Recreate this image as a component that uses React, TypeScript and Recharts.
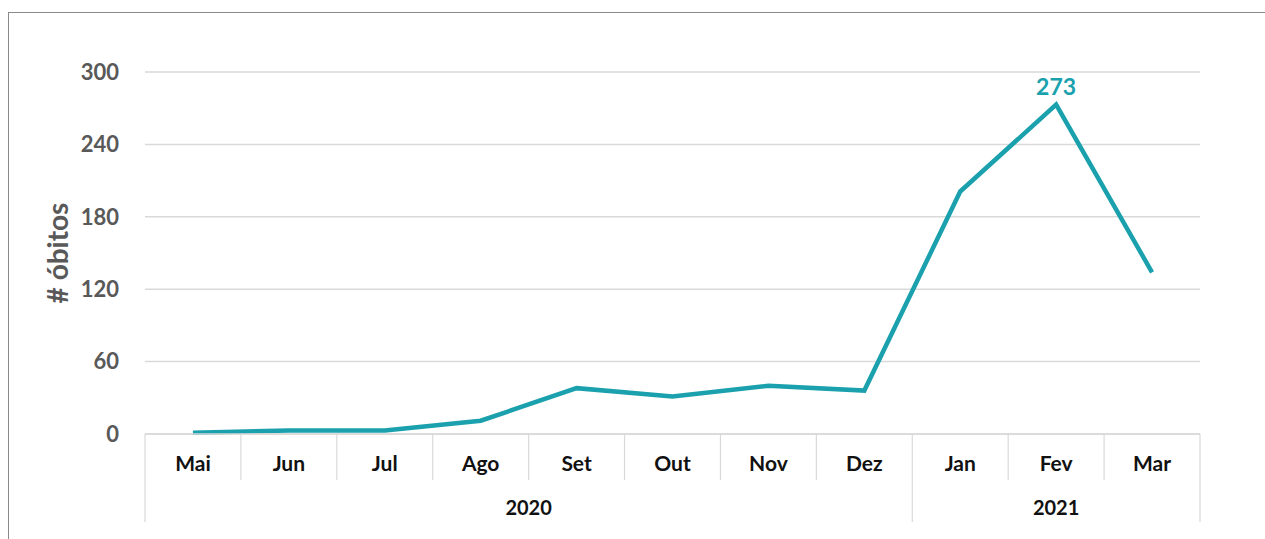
import { LineChart, Line, XAxis, YAxis, CartesianGrid, LabelList } from 'recharts';

const months = ['Mai', 'Jun', 'Jul', 'Ago', 'Set', 'Out', 'Nov', 'Dez', 'Jan', 'Fev', 'Mar'];
const monthYear = ['2020', '2020', '2020', '2020', '2020', '2020', '2020', '2020', '2021', '2021', '2021'];
const obitos = [1, 3, 3, 11, 38, 31, 40, 36, 201, 273, 134];
const yTicks = [0, 60, 120, 180, 240, 300];

const chartData = months.map((m, i) => ({ month: m, year: monthYear[i], obitos: obitos[i] }));

const W = 1257;
const H = 531;
const X_H = 30;
const M = { top: 64, right: 65, bottom: 105 - X_H, left: 0 };
const Y_W = 137;
const BAND = (W - M.right - Y_W) / months.length;
const FONT = 'Lato, "Open Sans", sans-serif';
const TEAL = '#1AA1AD';
const SEP = '#d9d9d9';

const MonthTick = (props: any) => {
    const { x, y, payload, index } = props;
    const half = BAND / 2;
    const yr = monthYear[index];
    const first = index === 0 || monthYear[index - 1] !== yr;
    const count = monthYear.filter(v => v === yr).length;
    return (
        <g>
            <line x1={x - half} x2={x - half} y1={y} y2={y + (first ? 88 : 46)} stroke={SEP} strokeWidth={1.2} />
            {index === months.length - 1 && (
                <line x1={x + half} x2={x + half} y1={y} y2={y + 88} stroke={SEP} strokeWidth={1.2} />
            )}
            <text x={x} y={y + 37} textAnchor="middle" fontFamily={FONT} fontWeight={700} fontSize={21} fill="#111">
                {payload.value}
            </text>
            {first && (
                <text x={x + (count - 1) * half} y={y + 81} textAnchor="middle" fontFamily={FONT} fontWeight={700} fontSize={20} fill="#111">
                    {yr}
                </text>
            )}
        </g>
    );
};

const peak = Math.max(...obitos);

export default function App() {
    return (
        <div style={{ position: 'fixed', top: 0, left: 0, width: 1265, height: 539, overflow: 'hidden', background: '#fff' }}>
            <div style={{ position: 'absolute', top: 12, left: 8, width: 1300, height: 600, border: '1.5px solid #8a8a8a' }} />
            <div style={{ position: 'absolute', top: 8, left: 8 }}>
                <LineChart width={W} height={H} data={chartData} margin={M}>
                    <CartesianGrid vertical={false} stroke={SEP} strokeWidth={1.5} />
                    <XAxis
                        dataKey="month"
                        height={X_H}
                        interval={0}
                        padding={{ left: BAND / 2, right: BAND / 2 }}
                        axisLine={{ stroke: SEP, strokeWidth: 1.5 }}
                        tickLine={false}
                        tickSize={0}
                        tickMargin={0}
                        tick={<MonthTick />}
                    />
                    <YAxis
                        width={Y_W}
                        domain={[0, 300]}
                        ticks={yTicks}
                        axisLine={false}
                        tickLine={false}
                        tickMargin={20}
                        tick={{ fill: '#595959', fontSize: 22, fontWeight: 700, fontFamily: FONT }}
                        label={{
                            value: '# óbitos',
                            angle: -90,
                            position: 'insideLeft',
                            offset: 50,
                            fill: '#595959',
                            fontSize: 28,
                            fontWeight: 700,
                            fontFamily: FONT,
                            style: { textAnchor: 'middle' },
                        }}
                    />
                    <Line
                        type="linear"
                        dataKey="obitos"
                        stroke={TEAL}
                        strokeWidth={4.5}
                        dot={false}
                        activeDot={false}
                        isAnimationActive={false}
                    >
                        <LabelList
                            dataKey="obitos"
                            content={(p: any) =>
                                p.value === peak ? (
                                    <text x={p.x} y={p.y - 10} textAnchor="middle" fill={TEAL} fontSize={23} fontWeight={700} fontFamily={FONT}>
                                        {p.value}
                                    </text>
                                ) : null
                            }
                        />
                    </Line>
                </LineChart>
            </div>
        </div>
    );
}
